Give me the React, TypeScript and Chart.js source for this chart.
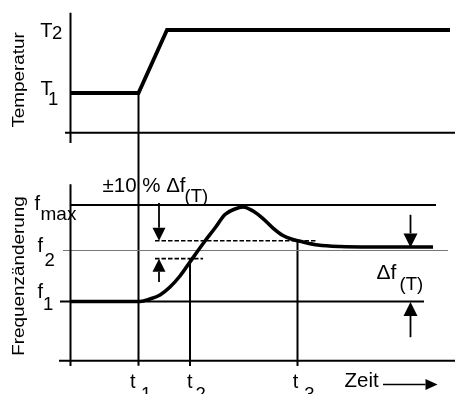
import React, { useEffect, useRef } from "react";
import { Chart, registerables } from "chart.js";
Chart.register(...registerables);

// ---------- data (arbitrary units) ----------
const tickNames = ["t", "t", "t"];
const tickSubs = ["1", "2", "3"];
const tickTimes = [6.8, 11.95, 22.7];

const T1 = 0;
const T2 = 10;
const tempTimes = [0, 6.8, 9.65, 37.95];
const tempValues = [T1, T1, T2, T2];

const F1 = 0;
const F2 = 10;
const FMAX = 18.9;
const FEND = 10.7;
const bandLow = 8.4;
const bandHigh = 11.9;
const freqTimes = [0, 6.95, 7.95, 8.95, 9.95, 10.95, 11.95, 12.65, 13.45, 14.45, 15.45, 16.45, 17.25, 18.25, 19.25, 20.25, 21.25, 22.25, 23.25, 24.75, 26.95, 30, 36.25];
const freqValues = [0, 0, 0.49, 1.27, 2.84, 5.0, 7.75, 9.71, 11.86, 14.41, 17.06, 18.14, 18.53, 17.75, 16.27, 14.41, 12.94, 12.16, 11.67, 11.08, 10.78, 10.7, 10.7];

// ---------- layout ----------
const W = 455;
const H = 394;
const X_ORIGIN_PX = 70.5;
const X_PX_PER_UNIT = 10;
const FONT = "'Liberation Sans', Arial, Helvetica, sans-serif";
const MAIN = 20;
const SUB = 18.5;

function yRange(vA: number, pA: number, vB: number, pB: number) {
  const k = (pA - pB) / (vB - vA); // px per unit (positive, upwards)
  return { max: vA + pA / k, min: vA - (H - pA) / k };
}
const tRange = yRange(T1, 93, T2, 30);
const fRange = yRange(F1, 301.5, F2, 250.5);
const xMin = -X_ORIGIN_PX / X_PX_PER_UNIT;
const xMax = (W - X_ORIGIN_PX) / X_PX_PER_UNIT;

function seg(xs: number[], ys: number[], axis: string, width: number, color = "#000", dash: number[] = []) {
  return {
    data: xs.map((x, i) => ({ x, y: ys[i] })),
    yAxisID: axis,
    borderColor: color,
    borderWidth: width,
    borderDash: dash,
    pointRadius: 0,
    fill: false,
    tension: 0,
  };
}

function vArrow(ctx: CanvasRenderingContext2D, x: number, yFrom: number, yTip: number, head: number, half: number, lw: number) {
  const d = Math.sign(yTip - yFrom);
  ctx.lineWidth = lw;
  ctx.beginPath();
  ctx.moveTo(x, yFrom);
  ctx.lineTo(x, yTip - d * head);
  ctx.stroke();
  ctx.beginPath();
  ctx.moveTo(x, yTip);
  ctx.lineTo(x - half, yTip - d * head);
  ctx.lineTo(x + half, yTip - d * head);
  ctx.closePath();
  ctx.fill();
}

function hArrow(ctx: CanvasRenderingContext2D, y: number, xFrom: number, xTip: number, head: number, half: number, lw: number) {
  ctx.lineWidth = lw;
  ctx.beginPath();
  ctx.moveTo(xFrom, y);
  ctx.lineTo(xTip - head, y);
  ctx.stroke();
  ctx.beginPath();
  ctx.moveTo(xTip, y);
  ctx.lineTo(xTip - head, y - half);
  ctx.lineTo(xTip - head, y + half);
  ctx.closePath();
  ctx.fill();
}

function txt(ctx: CanvasRenderingContext2D, s: string, x: number, y: number, size: number) {
  ctx.font = `${size}px ${FONT}`;
  ctx.fillText(s, x, y);
}

const tickLabelOffsets = [
  [-8.5, 2.4],
  [-3.1, 5.5],
  [-4.8, 6.8],
];

const annotations = {
  id: "annotations",
  afterDatasetsDraw(chart: any) {
    const ctx: CanvasRenderingContext2D = chart.ctx;
    const x = chart.scales.x;
    const yT = chart.scales.yT;
    const yF = chart.scales.yF;
    ctx.save();
    ctx.fillStyle = "#000";
    ctx.strokeStyle = "#000";
    ctx.textAlign = "left";
    ctx.textBaseline = "alphabetic";

    // rotated axis titles
    const rot = (s: string, cx: number, cy: number) => {
      ctx.save();
      ctx.translate(cx, cy);
      ctx.rotate(-Math.PI / 2);
      ctx.scale(1.18, 1);
      ctx.font = `16px ${FONT}`;
      ctx.textAlign = "center";
      ctx.fillText(s, 0, 0);
      ctx.restore();
    };
    rot("Temperatur", 24.2, (yT.getPixelForValue(T2) + yT.getPixelForValue(-6.3)) / 2 - 1.5);
    rot("Frequenzänderung", 24.0, (yF.getPixelForValue(23.0) + yF.getPixelForValue(-11.6)) / 2 + 3.5);

    // y labels
    const pT2 = yT.getPixelForValue(T2);
    const pT1 = yT.getPixelForValue(T1);
    txt(ctx, "T", 40.3, pT2 + 7.3, MAIN);
    txt(ctx, "2", 52, pT2 + 9.3, SUB);
    txt(ctx, "T", 40.6, pT1 + 2, MAIN);
    txt(ctx, "1", 48, pT1 + 12, SUB);
    const pFm = yF.getPixelForValue(FMAX);
    const pF2 = yF.getPixelForValue(F2);
    const pF1 = yF.getPixelForValue(F1);
    txt(ctx, "f", 34.5, pFm + 4.7, MAIN);
    txt(ctx, "max", 40.5, pFm + 14.7, 19);
    txt(ctx, "f", 37.5, pF2 + 1.5, MAIN);
    txt(ctx, "2", 44.5, pF2 + 15, SUB);
    txt(ctx, "f", 37.5, pF1 - 3.5, MAIN);
    txt(ctx, "1", 43, pF1 + 8.5, SUB);

    // ±10 % Δf(T)
    txt(ctx, "±10 % Δf", 102.5, pFm - 13.3, 20.5);
    txt(ctx, "(T)", 184.5, pFm - 3.5, SUB);

    // left band arrows
    const xa = x.getPixelForValue(8.85);
    vArrow(ctx, xa, yF.getPixelForValue(19.3), yF.getPixelForValue(bandHigh), 13, 6.5, 1.8);
    vArrow(ctx, xa, yF.getPixelForValue(3.8), yF.getPixelForValue(bandLow), 13, 6.5, 1.8);

    // right Δf arrows
    const xr = x.getPixelForValue(34.0);
    vArrow(ctx, xr, yF.getPixelForValue(17.0), yF.getPixelForValue(FEND) + 0.5, 14, 7, 1.8);
    vArrow(ctx, xr, yF.getPixelForValue(-7.0), yF.getPixelForValue(F1) + 0.5, 14, 7, 1.8);
    txt(ctx, "Δf", xr - 34, pF2 + 28, 21);
    txt(ctx, "(T)", xr - 11, pF2 + 39, SUB);

    // time tick labels
    tickTimes.forEach((t, i) => {
      const px = x.getPixelForValue(t);
      txt(ctx, tickNames[i], px + tickLabelOffsets[i][0], 387.5, MAIN);
      txt(ctx, tickSubs[i], px + tickLabelOffsets[i][1], 399.5, SUB);
    });

    // Zeit arrow
    txt(ctx, "Zeit", 344.5, 386.5, 20.5);
    hArrow(ctx, yF.getPixelForValue(-16.27), x.getPixelForValue(31.25), x.getPixelForValue(36.7), 12, 5.5, 1.5);

    ctx.restore();
  },
};

export default function App() {
  const ref = useRef<HTMLCanvasElement | null>(null);
  useEffect(() => {
    document.body.style.margin = "0";
    const canvas = ref.current;
    if (!canvas) return;
    const datasets: any[] = [
      { ...seg(freqTimes, freqValues, "yF", 3.6), cubicInterpolationMode: "monotone" },
      seg(tempTimes, tempValues, "yT", 3.8),
      // top panel axes
      seg([0, 0], [12.75, -7.94], "yT", 2),
      seg([-0.55, 39], [-6.3, -6.3], "yT", 2),
      // bottom panel axes
      seg([0, 0], [23.0, -12.65], "yF", 2),
      seg([-1.15, 39], [-11.6, -11.6], "yF", 2),
      // reference levels
      seg([0, 36.55], [FMAX, FMAX], "yF", 2),
      seg([-1.05, 35.35], [F1, F1], "yF", 2),
      seg([-0.75, 37.75], [F2, F2], "yF", 1.2, "#777"),
      // ±10 % band
      seg([8.45, 24.65], [bandHigh, bandHigh], "yF", 1.6, "#000", [4.5, 2]),
      seg([8.45, 13.25], [bandLow, bandLow], "yF", 1.6, "#000", [4.5, 2]),
      // time markers
      seg([tickTimes[0], tickTimes[0]], [T1, -43.3], "yT", 2),
      seg([tickTimes[1], tickTimes[1]], [bandLow, -12.65], "yF", 2),
      seg([tickTimes[2], tickTimes[2]], [bandHigh, -12.65], "yF", 2),
    ];
    const chart = new Chart(canvas, {
      type: "line",
      data: { datasets },
      options: {
        responsive: false,
        animation: false,
        devicePixelRatio: 1,
        events: [],
        layout: { padding: 0 },
        scales: {
          x: { type: "linear", display: false, min: xMin, max: xMax },
          yT: { type: "linear", display: false, min: tRange.min, max: tRange.max },
          yF: { type: "linear", display: false, min: fRange.min, max: fRange.max },
        },
        plugins: { legend: { display: false }, tooltip: { enabled: false } },
      },
      plugins: [annotations],
    } as any);
    return () => chart.destroy();
  }, []);
  return <canvas ref={ref} width={W} height={H} style={{ display: "block" }} />;
}
